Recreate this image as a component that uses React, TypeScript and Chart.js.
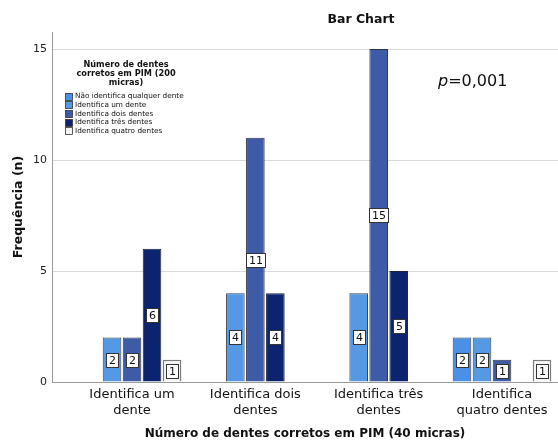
import { useEffect, useRef } from "react";
import { Chart, registerables } from "chart.js";

Chart.register(...registerables);

const categories: string[][] = [
  ["Identifica um", "dente"],
  ["Identifica dois", "dentes"],
  ["Identifica três", "dentes"],
  ["Identifica", "quatro dentes"],
];
const categoryPositions = [1, 2, 3, 4];
const seriesNames = [
  "Não identifica qualquer dente",
  "Identifica um dente",
  "Identifica dois dentes",
  "Identifica três dentes",
  "Identifica quatro dentes",
];
const naoIdentifica: (number | null)[] = [null, null, null, 2];
const identificaUm: (number | null)[] = [2, 4, 4, 2];
const identificaDois: (number | null)[] = [2, 11, 15, 1];
const identificaTres: (number | null)[] = [6, 4, 5, null];
const identificaQuatro: (number | null)[] = [1, null, null, 1];
const seriesValues = [naoIdentifica, identificaUm, identificaDois, identificaTres, identificaQuatro];
const yTicks = [0, 5, 10, 15];

const fills = ["#4a8fe8", "#5598e4", "#3e5ba8", "#0c2470", "#f4f4f4"];
const borders = ["#3a3f4a", "#3a3f4a", "#2e3444", "#1c2438", "#7a7a7a"];

const chartTitle = "Bar Chart";
const legendTitle = ["Número de dentes", "corretos em PIM (200", "micras)"];
const pLabel = "p";
const pValue = "=0,001";
const yTitle = "Frequência (n)";
const xTitle = "Número de dentes corretos em PIM (40 micras)";

const FONT = "'DejaVu Sans', sans-serif";

const overlay = {
  id: "overlay",
  afterDatasetsDraw(chart: any) {
    const ctx = chart.ctx as CanvasRenderingContext2D;
    ctx.save();
    ctx.font = `11px ${FONT}`;
    ctx.textAlign = "center";
    ctx.textBaseline = "middle";
    chart.data.datasets.forEach((_ds: any, di: number) => {
      const meta = chart.getDatasetMeta(di);
      meta.data.forEach((el: any, i: number) => {
        const v = seriesValues[di][i];
        if (v == null) return;
        const { x, y, base } = el.getProps(["x", "y", "base"], true);
        const cy = (y + base) / 2;
        const txt = String(v);
        const w = Math.round(ctx.measureText(txt).width + 5);
        const h = 14;
        const bx = Math.round(x - w / 2) + 0.5;
        const by = Math.round(cy - h / 2) + 0.5;
        ctx.fillStyle = "#ffffff";
        ctx.fillRect(bx, by, w, h);
        ctx.strokeStyle = "#333333";
        ctx.lineWidth = 1;
        ctx.strokeRect(bx, by, w, h);
        ctx.fillStyle = "#111111";
        ctx.fillText(txt, bx + w / 2, by + h / 2 + 0.5);
      });
    });
    ctx.restore();
  },
  afterDraw(chart: any) {
    const ctx = chart.ctx as CanvasRenderingContext2D;
    ctx.save();
    ctx.fillStyle = "#111";
    ctx.textAlign = "center";
    ctx.textBaseline = "middle";
    ctx.font = `bold 12.5px ${FONT}`;
    ctx.fillText(chartTitle, 361, 20);

    ctx.textAlign = "left";
    ctx.font = `italic 16px ${FONT}`;
    ctx.fillText(pLabel, 438, 82);
    const pw = ctx.measureText(pLabel).width;
    ctx.font = `16px ${FONT}`;
    ctx.fillText(pValue, 438 + pw, 82);

    ctx.textAlign = "center";
    ctx.font = `bold 8.2px ${FONT}`;
    legendTitle.forEach((line, i) => ctx.fillText(line, 126, 65 + i * 9));
    ctx.textAlign = "left";
    ctx.font = `7.3px ${FONT}`;
    seriesNames.forEach((name, i) => {
      const cy = 96 + i * 8.7;
      const sy = Math.round(cy - 3.5) + 0.5;
      ctx.fillStyle = fills[i];
      ctx.fillRect(65.5, sy, 7, 7);
      ctx.strokeStyle = "#333";
      ctx.lineWidth = 0.8;
      ctx.strokeRect(65.5, sy, 7, 7);
      ctx.fillStyle = "#111";
      ctx.fillText(name, 75, cy + 0.5);
    });
    ctx.restore();
  },
};

export default function App() {
  const ref = useRef<HTMLCanvasElement | null>(null);
  useEffect(() => {
    document.body.style.margin = "0";
    const canvas = ref.current;
    if (!canvas) return;
    Chart.defaults.font.family = FONT;
    const chart = new Chart(canvas, {
      type: "bar",
      data: {
        datasets: seriesNames.map((name, di) => ({
          label: name,
          data: seriesValues[di].map((v, i) => ({ x: categoryPositions[i], y: v })) as any,
          backgroundColor: fills[di],
          borderColor: borders[di],
          borderWidth: di === 4 ? 1.5 : 1,
          categoryPercentage: 0.811,
          barPercentage: 0.93,
        })),
      },
      options: {
        animation: false,
        responsive: false,
        layout: { padding: { top: 32, right: 0, left: 0, bottom: 0 } },
        plugins: {
          legend: { display: false },
          tooltip: { enabled: false },
          title: { display: false },
        },
        scales: {
          x: {
            type: "linear",
            offset: false,
            min: 0.351,
            max: 4.454,
            grid: { display: false, drawTicks: false },
            border: { display: true, color: "#999999", width: 1 },
            afterBuildTicks: (scale: any) => {
              scale.ticks = categoryPositions.map((v) => ({ value: v }));
            },
            afterFit: (scale: any) => {
              scale.height = 65;
            },
            ticks: {
              autoSkip: false,
              maxRotation: 0,
              minRotation: 0,
              padding: 5,
              color: "#111",
              font: { size: 13, family: FONT },
              callback: (value: any) => {
                const idx = categoryPositions.indexOf(Number(value));
                return idx >= 0 ? categories[idx] : "";
              },
            },
            title: {
              display: true,
              text: xTitle,
              color: "#111",
              font: { size: 12, weight: "bold", family: FONT },
              padding: { top: 6, bottom: 6 },
            },
          },
          y: {
            type: "linear",
            min: 0,
            max: 15.77,
            afterBuildTicks: (scale: any) => {
              scale.ticks = yTicks.map((v) => ({ value: v }));
            },
            afterFit: (scale: any) => {
              scale.width = 52;
            },
            grid: { color: "#dadada", drawTicks: false, lineWidth: 1 },
            border: { display: true, color: "#999999", width: 1 },
            ticks: {
              padding: 5,
              color: "#222",
              font: { size: 11, family: FONT },
            },
            title: {
              display: true,
              text: yTitle,
              color: "#111",
              font: { size: 12.5, weight: "bold", family: FONT },
              padding: { top: 11, bottom: 0 },
            },
          },
        },
      },
      plugins: [overlay],
    });
    return () => chart.destroy();
  }, []);
  return (
    <div style={{ width: 558, height: 447 }}>
      <canvas ref={ref} width={558} height={447} style={{ display: "block" }} />
    </div>
  );
}
